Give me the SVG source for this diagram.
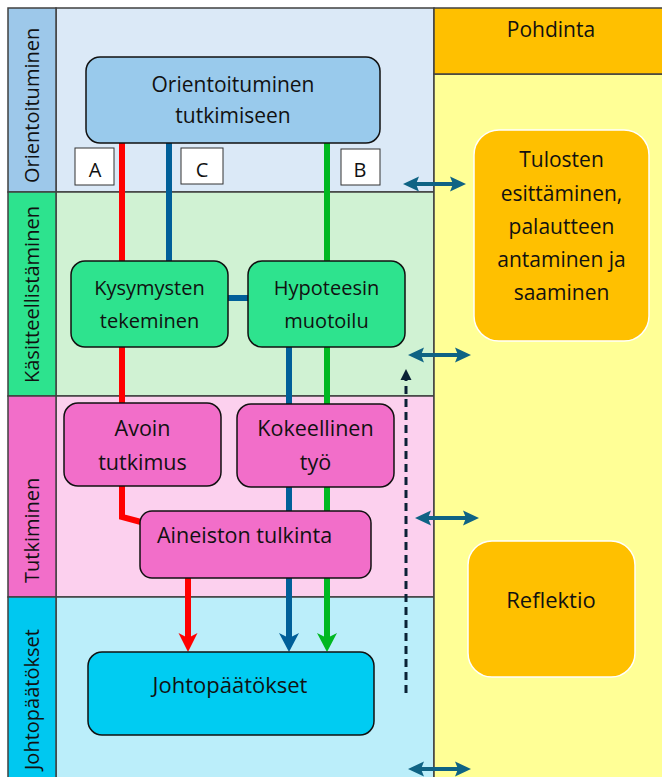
<svg xmlns="http://www.w3.org/2000/svg" width="662" height="777" viewBox="0 0 662 777">
<style>
text{font-family:"Open Sans","Liberation Sans",sans-serif;fill:#111;font-size:20px}
.c{text-anchor:middle}
.big{font-size:21.5px}
.r{font-size:21px}
.lane{stroke:#404040;stroke-width:1.5}
.node{stroke:#111;stroke-width:1.5}
.tag{fill:#fff;stroke:#333;stroke-width:1}
.red{stroke:#ff0000;stroke-width:6;fill:none}
.blue{stroke:#005f99;stroke-width:6;fill:none}
.green{stroke:#00b821;stroke-width:6;fill:none}
.teal{stroke:#0f6384;stroke-width:4;fill:none}
.dash{stroke:#0b2236;stroke-width:3;stroke-dasharray:8 5;fill:none}
.lbl{text-anchor:start}
</style>
<defs>
<marker id="ahR" markerUnits="userSpaceOnUse" markerWidth="20" markerHeight="20" viewBox="0 -10 20 20" refX="13" refY="0" orient="auto"><path d="M0,-9.5 L19,0 L0,9.5 L5,0 z" fill="#ff0000"/></marker>
<marker id="ahB" markerUnits="userSpaceOnUse" markerWidth="20" markerHeight="20" viewBox="0 -10 20 20" refX="13" refY="0" orient="auto"><path d="M0,-10 L19,0 L0,10 L5,0 z" fill="#005f99"/></marker>
<marker id="ahG" markerUnits="userSpaceOnUse" markerWidth="20" markerHeight="20" viewBox="0 -10 20 20" refX="13" refY="0" orient="auto"><path d="M0,-10 L19,0 L0,10 L5,0 z" fill="#00b821"/></marker>
<marker id="ahT" markerUnits="userSpaceOnUse" markerWidth="18" markerHeight="16" viewBox="0 -8 18 16" refX="6" refY="0" orient="auto-start-reverse"><path d="M0,-7.5 L16,0 L0,7.5 L3,0 z" fill="#0f6384"/></marker>
<marker id="ahD" markerUnits="userSpaceOnUse" markerWidth="12" markerHeight="12" viewBox="0 -6 12 12" refX="4" refY="0" orient="auto"><path d="M0,-5.5 L11,0 L0,5.5 z" fill="#0b2236"/></marker>
</defs>

<g id="lane-orientoituminen">
<rect x="56" y="8" width="378" height="184" fill="#dbe9f7" class="lane"/>
<rect x="8" y="8" width="48" height="184" fill="#9dc8ea" class="lane"/>
<text class="lbl" transform="translate(39,183) rotate(-90)">Orientoituminen</text>
</g>
<g id="lane-kasitteellistaminen">
<rect x="56" y="192" width="378" height="204" fill="#d0f2d3" class="lane"/>
<rect x="8" y="192" width="48" height="204" fill="#2de38e" class="lane"/>
<text class="lbl" transform="translate(39,383) rotate(-90)">Käsitteellistäminen</text>
</g>
<g id="lane-tutkiminen">
<rect x="56" y="396" width="378" height="201" fill="#fcd0ee" class="lane"/>
<rect x="8" y="396" width="48" height="201" fill="#f26ec9" class="lane"/>
<text class="lbl" transform="translate(39,583) rotate(-90)">Tutkiminen</text>
</g>
<g id="lane-johtopaatokset">
<rect x="56" y="597" width="378" height="190" fill="#bbeefa" class="lane"/>
<rect x="8" y="597" width="48" height="190" fill="#00c8f0" class="lane"/>
<text class="lbl" transform="translate(39,770) rotate(-90)">Johtopäätökset</text>
</g>
<g id="lane-pohdinta">
<rect x="434" y="74" width="240" height="713" fill="#ffff96" class="lane"/>
<rect x="434" y="8" width="240" height="66" fill="#ffc000" class="lane"/>
<text class="c r" x="551" y="37">Pohdinta</text>
</g>

<g id="connectors">
<path class="red" d="M122,143 V403"/>
<path class="red" d="M122,486 V517 L141,522"/>
<path class="red" d="M188,578 V646" marker-end="url(#ahR)"/>
<path class="blue" d="M169,143 V261"/>
<path class="blue" d="M228,298 H248"/>
<path class="blue" d="M289,347 V646" marker-end="url(#ahB)"/>
<path class="green" d="M327,143 V646" marker-end="url(#ahG)"/>
<path class="dash" d="M406,693 V376" marker-end="url(#ahD)"/>
<path class="teal" d="M413,184 H456" marker-start="url(#ahT)" marker-end="url(#ahT)"/>
<path class="teal" d="M418,355 H461" marker-start="url(#ahT)" marker-end="url(#ahT)"/>
<path class="teal" d="M425,518 H469" marker-start="url(#ahT)" marker-end="url(#ahT)"/>
<path class="teal" d="M418,769 H461" marker-start="url(#ahT)" marker-end="url(#ahT)"/>
</g>

<g id="tag-A"><rect class="tag" x="75" y="148" width="39" height="37"/><text class="c" x="95" y="177">A</text></g>
<g id="tag-C"><rect class="tag" x="181" y="148" width="42" height="36"/><text class="c" x="202" y="177">C</text></g>
<g id="tag-B"><rect class="tag" x="341" y="149" width="39" height="36"/><text class="c" x="360" y="177">B</text></g>

<g id="node-orientoituminen-tutkimiseen">
<rect class="node" x="86" y="57" width="294" height="86" rx="14" fill="#99caec"/>
<text class="c r" x="233" y="92">Orientoituminen</text>
<text class="c r" x="233" y="123">tutkimiseen</text>
</g>
<g id="node-kysymysten-tekeminen">
<rect class="node" x="71" y="261" width="157" height="86" rx="14" fill="#2ee38e"/>
<text class="c" x="149.5" y="295">Kysymysten</text>
<text class="c" x="149.5" y="328">tekeminen</text>
</g>
<g id="node-hypoteesin-muotoilu">
<rect class="node" x="248" y="261" width="157" height="86" rx="14" fill="#2ee38e"/>
<text class="c" x="326.5" y="295">Hypoteesin</text>
<text class="c" x="326.5" y="328">muotoilu</text>
</g>
<g id="node-avoin-tutkimus">
<rect class="node" x="64" y="403" width="157" height="83" rx="14" fill="#f26ec9"/>
<text class="c big" x="142.5" y="436">Avoin</text>
<text class="c big" x="142.5" y="470">tutkimus</text>
</g>
<g id="node-kokeellinen-tyo">
<rect class="node" x="237" y="404" width="157" height="83" rx="14" fill="#f26ec9"/>
<text class="c big" x="315.5" y="436">Kokeellinen</text>
<text class="c big" x="315.5" y="470">työ</text>
</g>
<g id="node-aineiston-tulkinta">
<rect class="node" x="140" y="511" width="231" height="67" rx="12" fill="#f26ec9"/>
<text class="big" x="157" y="543">Aineiston tulkinta</text>
</g>
<g id="node-johtopaatokset">
<rect class="node" x="88" y="652" width="286" height="83" rx="14" fill="#00ccf2"/>
<text class="c" x="230" y="693" style="font-size:22px">Johtopäätökset</text>
</g>
<g id="node-tulosten-esittaminen">
<rect x="474" y="130" width="175" height="211" rx="25" fill="#ffc000" stroke="#fff" stroke-width="1.5"/>
<text class="c r" x="561.5" y="167">Tulosten</text>
<text class="c r" x="561.5" y="201">esittäminen,</text>
<text class="c r" x="561.5" y="234">palautteen</text>
<text class="c r" x="561.5" y="267">antaminen ja</text>
<text class="c r" x="561.5" y="300">saaminen</text>
</g>
<g id="node-reflektio">
<rect x="468" y="541" width="167" height="136" rx="24" fill="#ffc000" stroke="#fff" stroke-width="1.5"/>
<text class="c" x="551" y="608" style="font-size:22px">Reflektio</text>
</g>
</svg>
